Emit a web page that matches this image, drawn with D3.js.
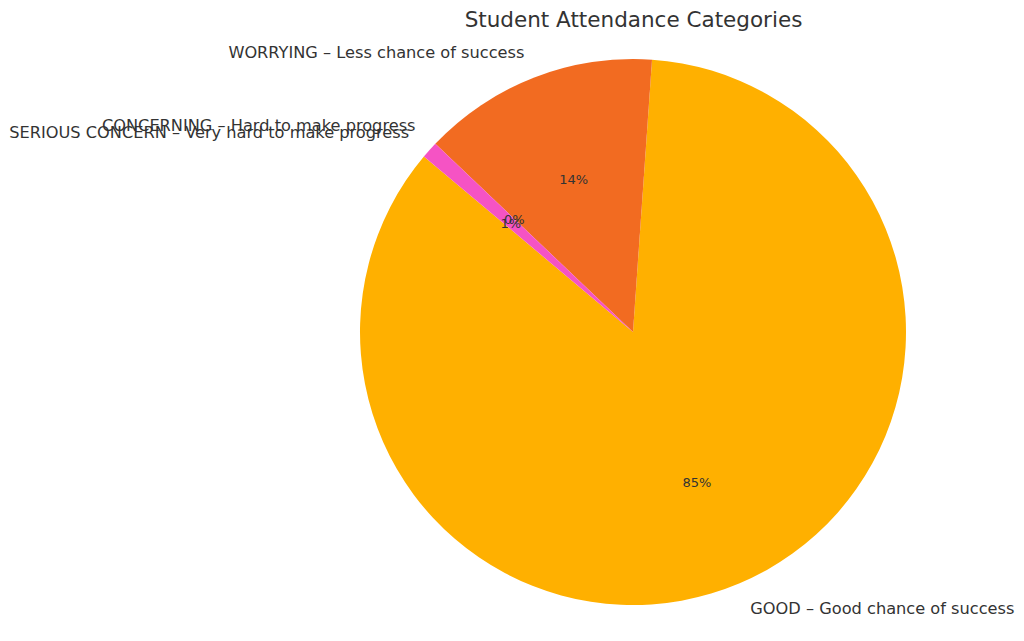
<!DOCTYPE html>
<html>
<head>
<meta charset="utf-8">
<script src="https://cdn.jsdelivr.net/npm/d3@7"></script>
<style>
  html, body { margin: 0; padding: 0; background: #fff; }
  svg { display: block; font-family: "DejaVu Sans", sans-serif; }
</style>
</head>
<body>
<svg id="chart" width="1024" height="641"></svg>
<script>
const categories = [
  "GOOD – Good chance of success",
  "WORRYING – Less chance of success",
  "CONCERNING – Hard to make progress",
  "SERIOUS CONCERN – Very hard to make progress"
];
const values = [85, 14, 0, 1];
const colors = ["#FFB000", "#F26B21", "#E0323C", "#F553C4"];
const title = "Student Attendance Categories";

const svg = d3.select("#chart");
const cx = 633, cy = 332, R = 273;
const startDeg = 140; // matplotlib-style start angle, counterclockwise

const toRad = d => d * Math.PI / 180;
const pie = d3.pie()
  .value(d => d.v)
  .sort(null)
  .startAngle(toRad(90 - startDeg))
  .endAngle(toRad(90 - startDeg - 360));

const data = categories.map((c, i) => ({ c, v: values[i], col: colors[i] }));
const arcs = pie(data);
const arc = d3.arc().innerRadius(0).outerRadius(R);

const g = svg.append("g").attr("transform", `translate(${cx},${cy})`);

g.selectAll("path.slice")
  .data(arcs)
  .join("path")
  .attr("class", "slice")
  .attr("d", arc)
  .attr("fill", d => d.data.col);

const total = d3.sum(values);
const mid = d => (d.startAngle + d.endAngle) / 2;

g.selectAll("text.lbl")
  .data(arcs)
  .join("text")
  .attr("class", "lbl")
  .attr("x", d => Math.sin(mid(d)) * R * 1.1)
  .attr("y", d => -Math.cos(mid(d)) * R * 1.1)
  .attr("dy", "0.36em")
  .attr("text-anchor", d => Math.sin(mid(d)) > 0 ? "start" : "end")
  .attr("font-size", 16.2)
  .attr("fill", "#333333")
  .text(d => d.data.c);

g.selectAll("text.pct")
  .data(arcs)
  .join("text")
  .attr("class", "pct")
  .attr("x", d => Math.sin(mid(d)) * R * 0.6)
  .attr("y", d => -Math.cos(mid(d)) * R * 0.6)
  .attr("dy", "0.36em")
  .attr("text-anchor", "middle")
  .attr("font-size", 13)
  .attr("fill", "#333333")
  .text(d => Math.round(d.data.v / total * 100) + "%");

svg.append("text")
  .attr("x", 633.5)
  .attr("y", 19)
  .attr("dy", "0.36em")
  .attr("text-anchor", "middle")
  .attr("font-size", 21.5)
  .attr("fill", "#333333")
  .text(title);
</script>
</body>
</html>
